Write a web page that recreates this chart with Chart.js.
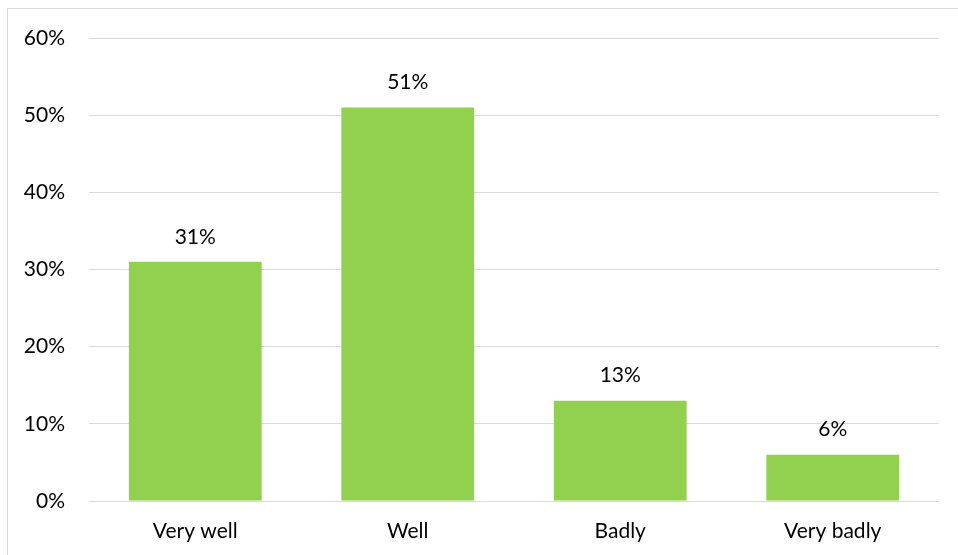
<!DOCTYPE html>
<html>
<head>
<meta charset="utf-8">
<script src="https://cdn.jsdelivr.net/npm/chart.js@4"></script>
<style>
  html, body { margin: 0; padding: 0; background: #fff; }
  .frame {
    position: absolute; left: 7px; top: 8px;
    width: 1000px; height: 600px;
    border: 1px solid #d9d9d9;
  }
  .chart-container { position: absolute; left: 0; top: 0; width: 958px; height: 555px; }
</style>
</head>
<body>
<div class="frame"></div>
<div class="chart-container">
  <canvas id="chart"></canvas>
</div>
<script>
const categories = ["Very well", "Well", "Badly", "Very badly"];
const values = [31, 51, 13, 6];
const yTicks = [0, 10, 20, 30, 40, 50, 60];

const fontFamily = "Lato, 'Open Sans', sans-serif";
const fontSize = 21;

// dibuja las etiquetas encima de cada barra
const barLabels = {
  id: "barLabels",
  afterDatasetsDraw(chart) {
    const ctx = chart.ctx;
    const meta = chart.getDatasetMeta(0);
    ctx.save();
    ctx.fillStyle = "#000";
    ctx.font = fontSize + "px " + fontFamily;
    ctx.textAlign = "center";
    ctx.textBaseline = "middle";
    meta.data.forEach((bar, i) => {
      ctx.fillText(values[i] + "%", bar.x, bar.y - 25);
    });
    ctx.restore();
  }
};

new Chart(document.getElementById("chart"), {
  type: "bar",
  data: {
    labels: categories,
    datasets: [{
      data: values,
      backgroundColor: "#92D050",
      categoryPercentage: 1,
      barPercentage: 0.625
    }]
  },
  options: {
    responsive: true,
    maintainAspectRatio: false,
    animation: false,
    layout: { padding: { top: 38, right: 19, left: 0, bottom: 0 } },
    plugins: {
      legend: { display: false },
      tooltip: { enabled: false }
    },
    scales: {
      x: {
        grid: { display: false },
        border: { display: false },
        ticks: { color: "#000", font: { size: fontSize, family: fontFamily }, padding: 10 },
        afterFit(scale) { scale.height = 54; }
      },
      y: {
        min: 0,
        max: 60,
        afterBuildTicks(scale) { scale.ticks = yTicks.map(v => ({ value: v })); },
        grid: { color: "#d9d9d9", lineWidth: 1, drawTicks: false },
        border: { display: false },
        ticks: {
          color: "#000",
          font: { size: fontSize, family: fontFamily },
          padding: 24,
          callback: v => v + "%"
        },
        afterFit(scale) { scale.width = 89; }
      }
    }
  },
  plugins: [barLabels]
});
</script>
</body>
</html>
